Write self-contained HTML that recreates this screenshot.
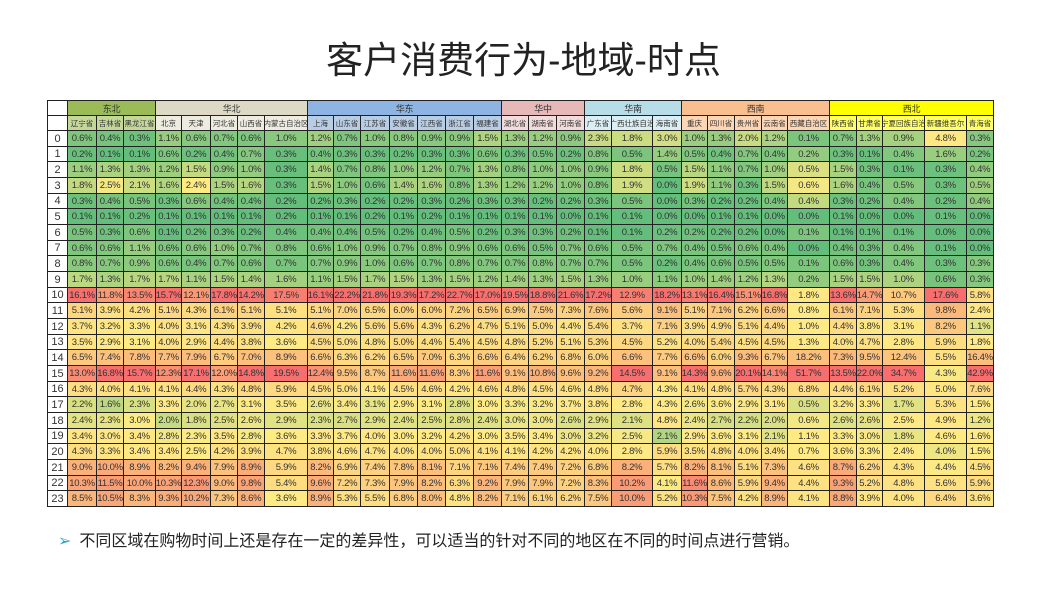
<!DOCTYPE html>
<html><head><meta charset="utf-8">
<style>
html,body{margin:0;padding:0;background:#fff;}
body{width:1047px;height:608px;position:relative;overflow:hidden;font-family:"Liberation Sans","Noto Sans CJK SC",sans-serif;}
#title{position:absolute;left:0;width:1047px;top:30px;text-align:center;font-size:37px;color:#222;font-family:"Liberation Sans","Noto Sans CJK SC",sans-serif;}
#tbl{position:absolute;left:0;top:0;}
.c{position:absolute;box-sizing:border-box;border-right:1px solid #222;border-bottom:1px solid #222;display:flex;align-items:center;justify-content:center;font-size:10px;color:#333;white-space:nowrap;overflow:hidden;letter-spacing:-0.3px;}
#note{position:absolute;left:58px;top:527px;font-size:16px;color:#222;}
#note b{color:#2aa7c9;font-weight:normal;margin-right:8px;}
</style></head><body>
<div id="title">客户消费行为-地域-时点</div>
<div id="tbl"></div>
<div id="note"><b>➢</b>不同区域在购物时间上还是存在一定的差异性，可以适当的针对不同的地区在不同的时间点进行营销。</div>
<script>
var xs=[47,68,97,124,156,182,211,238,265,308,334,361,390,418,446,474,502,529,557,585,612,653,682,708,735,762,788,830,857,883,925,967,994];
var names=["辽宁省","吉林省","黑龙江省","北京","天津","河北省","山西省","内蒙古自治区","上海","山东省","江苏省","安徽省","江西省","浙江省","福建省","湖北省","湖南省","河南省","广东省","广西壮族自治","海南省","重庆","四川省","贵州省","云南省","西藏自治区","陕西省","甘肃省","宁夏回族自治","新疆维吾尔","青海省"];
var groups=[["东北",0,3,"#9bbb59","#c4d79b"],["华北",3,8,"#ddd9c4","#eeece1"],["华东",8,15,"#8db4e2","#b8cce4"],["华中",15,18,"#e6b8b7","#f2dcdb"],["华南",18,21,"#b7dee8","#daeef3"],["西南",21,26,"#fabf8f","#fcd5b4"],["西北",26,31,"#ffff00","#ffff66"]];
var D=[
[0.6,0.4,0.3,1.1,0.6,0.7,0.6,1.0,1.2,0.7,1.0,0.8,0.9,0.9,1.5,1.3,1.2,0.9,2.3,1.8,3.0,1.0,1.3,2.0,1.2,0.1,0.7,1.3,0.9,4.8,0.3],
[0.2,0.1,0.1,0.6,0.2,0.4,0.7,0.3,0.4,0.3,0.3,0.2,0.3,0.3,0.6,0.3,0.5,0.2,0.8,0.5,1.4,0.5,0.4,0.7,0.4,0.2,0.3,0.1,0.4,1.6,0.2],
[1.1,1.3,1.3,1.2,1.5,0.9,1.0,0.3,1.4,0.7,0.8,1.0,1.2,0.7,1.3,0.8,1.0,1.0,0.9,1.8,0.5,1.5,1.1,0.7,1.0,0.5,1.5,0.3,0.1,0.3,0.4],
[1.8,2.5,2.1,1.6,2.4,1.5,1.6,0.3,1.5,1.0,0.6,1.4,1.6,0.8,1.3,1.2,1.2,1.0,0.8,1.9,0.0,1.9,1.1,0.3,1.5,0.6,1.6,0.4,0.5,0.3,0.5],
[0.3,0.4,0.5,0.3,0.6,0.4,0.4,0.2,0.2,0.3,0.2,0.2,0.3,0.2,0.3,0.3,0.2,0.2,0.3,0.5,0.0,0.3,0.2,0.2,0.4,0.4,0.3,0.2,0.4,0.2,0.4],
[0.1,0.1,0.2,0.1,0.1,0.1,0.1,0.2,0.1,0.1,0.2,0.1,0.2,0.1,0.1,0.1,0.1,0.0,0.1,0.1,0.0,0.0,0.1,0.1,0.0,0.0,0.1,0.0,0.0,0.1,0.0],
[0.5,0.3,0.6,0.1,0.2,0.3,0.2,0.4,0.4,0.4,0.5,0.2,0.4,0.5,0.2,0.3,0.3,0.2,0.1,0.1,0.2,0.2,0.2,0.2,0.0,0.1,0.1,0.1,0.1,0.0,0.0],
[0.6,0.6,1.1,0.6,0.6,1.0,0.7,0.8,0.6,1.0,0.9,0.7,0.8,0.9,0.6,0.6,0.5,0.7,0.6,0.5,0.7,0.4,0.5,0.6,0.4,0.0,0.4,0.3,0.4,0.1,0.0],
[0.8,0.7,0.9,0.6,0.4,0.7,0.6,0.7,0.7,0.9,1.0,0.6,0.7,0.8,0.7,0.7,0.8,0.7,0.7,0.5,0.2,0.4,0.6,0.5,0.5,0.1,0.6,0.3,0.4,0.3,0.3],
[1.7,1.3,1.7,1.7,1.1,1.5,1.4,1.6,1.1,1.5,1.7,1.5,1.3,1.5,1.2,1.4,1.3,1.5,1.3,1.0,1.1,1.0,1.4,1.2,1.3,0.2,1.5,1.5,1.0,0.6,0.3],
[16.1,11.8,13.5,15.7,12.1,17.8,14.2,17.5,16.1,22.2,21.8,19.3,17.2,22.7,17.0,19.5,18.8,21.6,17.2,12.9,18.2,13.1,16.4,15.1,16.8,1.8,13.6,14.7,10.7,17.6,5.8],
[5.1,3.9,4.2,5.1,4.3,6.1,5.1,5.1,5.1,7.0,6.5,6.0,6.0,7.2,6.5,6.9,7.5,7.3,7.6,5.6,9.1,5.1,7.1,6.2,6.6,0.8,6.1,7.1,5.3,9.8,2.4],
[3.7,3.2,3.3,4.0,3.1,4.3,3.9,4.2,4.6,4.2,5.6,5.6,4.3,6.2,4.7,5.1,5.0,4.4,5.4,3.7,7.1,3.9,4.9,5.1,4.4,1.0,4.4,3.8,3.1,8.2,1.1],
[3.5,2.9,3.1,4.0,2.9,4.4,3.8,3.6,4.5,5.0,4.8,5.0,4.4,5.4,4.5,4.8,5.2,5.1,5.3,4.5,5.2,4.0,5.4,4.5,4.5,1.3,4.0,4.7,2.8,5.9,1.8],
[6.5,7.4,7.8,7.7,7.9,6.7,7.0,8.9,6.6,6.3,6.2,6.5,7.0,6.3,6.6,6.4,6.2,6.8,6.0,6.6,7.7,6.6,6.0,9.3,6.7,18.2,7.3,9.5,12.4,5.5,16.4],
[13.0,16.8,15.7,12.3,17.1,12.0,14.8,19.5,12.4,9.5,8.7,11.6,11.6,8.3,11.6,9.1,10.8,9.6,9.2,14.5,9.1,14.3,9.6,20.1,14.1,51.7,13.5,22.0,34.7,4.3,42.9],
[4.3,4.0,4.1,4.1,4.4,4.3,4.8,5.9,4.5,5.0,4.1,4.5,4.6,4.2,4.6,4.8,4.5,4.6,4.8,4.7,4.3,4.1,4.8,5.7,4.3,6.8,4.4,6.1,5.2,5.0,7.6],
[2.2,1.6,2.3,3.3,2.0,2.7,3.1,3.5,2.6,3.4,3.1,2.9,3.1,2.8,3.0,3.3,3.2,3.7,3.8,2.8,4.3,2.6,3.6,2.9,3.1,0.5,3.2,3.3,1.7,5.3,1.5],
[2.4,2.3,3.0,2.0,1.8,2.5,2.6,2.9,2.3,2.7,2.9,2.4,2.5,2.8,2.4,3.0,3.0,2.6,2.9,2.1,4.8,2.4,2.7,2.2,2.0,0.6,2.6,2.6,2.5,4.9,1.2],
[3.4,3.0,3.4,2.8,2.3,3.5,2.8,3.6,3.3,3.7,4.0,3.0,3.2,4.2,3.0,3.5,3.4,3.0,3.2,2.5,2.1,2.9,3.6,3.1,2.1,1.1,3.3,3.0,1.8,4.6,1.6],
[4.3,3.3,3.4,3.4,2.5,4.2,3.9,4.7,3.8,4.6,4.7,4.0,4.0,5.0,4.1,4.1,4.2,4.2,4.0,2.8,5.9,3.5,4.8,4.0,3.4,0.7,3.6,3.3,2.4,4.0,1.5],
[9.0,10.0,8.9,8.2,9.4,7.9,8.9,5.9,8.2,6.9,7.4,7.8,8.1,7.1,7.1,7.4,7.4,7.2,6.8,8.2,5.7,8.2,8.1,5.1,7.3,4.6,8.7,6.2,4.3,4.4,4.5],
[10.3,11.5,10.0,10.3,12.3,9.0,9.8,5.4,9.6,7.2,7.3,7.9,8.2,6.3,9.2,7.9,7.9,7.2,8.3,10.2,4.1,11.6,8.6,5.9,9.4,4.4,9.3,5.2,4.8,5.6,5.9],
[8.5,10.5,8.3,9.3,10.2,7.3,8.6,3.6,8.9,5.3,5.5,6.8,8.0,4.8,8.2,7.1,6.1,6.2,7.5,10.0,5.2,10.3,7.5,4.2,8.9,4.1,8.8,3.9,4.0,6.4,3.6]];
var G=[99,190,124],Y=[255,235,132],R=[246,110,110];
function mix(a,b,t){return 'rgb('+a.map(function(v,i){return Math.round(v+(b[i]-v)*t)}).join(',')+')';}
var h='',top0=100,h1=116,h2=131,rh=(507-131)/24;
function cell(x1,y1,x2,y2,bg,t,fs,extra){h+='<div class="c" style="left:'+x1+'px;top:'+y1+'px;width:'+(x2-x1)+'px;height:'+(y2-y1)+'px;background:'+bg+';'+(fs?'font-size:'+fs+'px;':'')+(extra||'')+'">'+t+'</div>';}
cell(xs[0],top0,xs[1],h1,'#fff','',0,'border-left:1px solid #222;border-top:1px solid #222;');
cell(xs[0],h1,xs[1],h2,'#fff','',0,'border-left:1px solid #222;');
groups.forEach(function(g){cell(xs[g[1]+1],top0,xs[g[2]+1],h1,g[3],g[0],9,'border-top:1px solid #222;');
 for(var c=g[1];c<g[2];c++)cell(xs[c+1],h1,xs[c+2],h2,g[4],names[c],7.5,'letter-spacing:0;');});
var cols=[];for(var c=0;c<31;c++){var v=D.map(function(r){return r[c]}).slice().sort(function(a,b){return a-b});cols.push([v[0],(v[11]+v[12])/2,v[23]]);}
for(var r=0;r<24;r++){var y1=Math.round(h2+r*rh),y2=Math.round(h2+(r+1)*rh);
 cell(xs[0],y1,xs[1],y2,'#fff',r,11,'border-left:1px solid #222;letter-spacing:0;');
 for(var c=0;c<31;c++){var v=D[r][c],s=cols[c],bg;
  if(v<=s[1])bg=mix(G,Y,s[1]>s[0]?(v-s[0])/(s[1]-s[0]):0);else bg=mix(Y,R,(v-s[1])/(s[2]-s[1]));
  cell(xs[c+1],y1,xs[c+2],y2,bg,v.toFixed(1)+'%',9.5);}}
document.getElementById('tbl').innerHTML=h;
</script>
</body></html>
